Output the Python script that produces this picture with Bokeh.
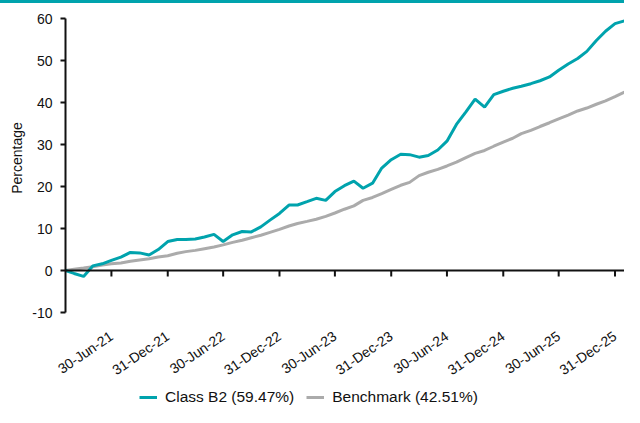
import pandas as pd
from bokeh.plotting import figure
from bokeh.models import (Range1d, FixedTicker, DatetimeTickFormatter, LinearAxis,
                          Legend, LegendItem, Div, ColumnDataSource, Span)
from bokeh.layouts import column
from bokeh.embed import file_html
from bokeh.resources import INLINE

# ---- data (monthly cumulative performance, %) ----
start_month = "2021-01-31"
class_b2 = [0.0, -0.7, -1.4, 1.1, 1.6, 2.4, 3.2, 4.3, 4.2, 3.7, 5.0, 6.9,
            7.4, 7.4, 7.5, 8.0, 8.6, 6.9, 8.5, 9.3, 9.2, 10.4, 12.0, 13.6,
            15.6, 15.6, 16.4, 17.2, 16.7, 18.8, 20.2, 21.3, 19.6, 20.8, 24.4, 26.4,
            27.7, 27.6, 27.0, 27.4, 28.7, 30.8, 34.8, 37.8, 40.8, 38.9, 41.9, 42.7,
            43.4, 43.9, 44.5, 45.2, 46.1, 47.7, 49.2, 50.5, 52.2, 54.8, 57.0, 58.8,
            59.47]
benchmark = [0.0, 0.3, 0.6, 0.9, 1.3, 1.6, 1.8, 2.2, 2.5, 2.8, 3.2, 3.5,
             4.1, 4.5, 4.8, 5.2, 5.6, 6.1, 6.7, 7.2, 7.8, 8.4, 9.1, 9.8,
             10.6, 11.2, 11.7, 12.2, 12.9, 13.7, 14.6, 15.4, 16.7, 17.4, 18.3, 19.3,
             20.3, 21.0, 22.6, 23.4, 24.1, 24.9, 25.8, 26.9, 27.9, 28.6, 29.6, 30.6,
             31.5, 32.6, 33.4, 34.3, 35.2, 36.1, 37.0, 38.0, 38.7, 39.6, 40.4, 41.4,
             42.51]
series_names = ["Class B2 (59.47%)", "Benchmark (42.51%)"]
tick_labels = ["30-Jun-21", "31-Dec-21", "30-Jun-22", "31-Dec-22", "30-Jun-23",
               "31-Dec-23", "30-Jun-24", "31-Dec-24", "30-Jun-25", "31-Dec-25"]
y_ticks = [-10, 0, 10, 20, 30, 40, 50, 60]

TEAL = "#00A3AD"
GREY = "#ABABAB"
INK = "#111111"
FONT = "Liberation Sans"
Y_MIN, Y_MAX = -10, 63.6
TICK_LEN = 1.42  # length of the date tick marks below the zero line (y units)

dates = [pd.Timestamp(start_month) + pd.offsets.MonthEnd(i) for i in range(len(class_b2))]
epoch = pd.Timestamp("1970-01-01")
tick_dates = [pd.to_datetime(t, format="%d-%b-%y") for t in tick_labels]
tick_ms = [(d - epoch) / pd.Timedelta(milliseconds=1) for d in tick_dates]

src = ColumnDataSource(dict(date=dates, b2=class_b2, bm=benchmark))
tick_src = ColumnDataSource(dict(x=tick_dates, y0=[0] * len(tick_dates),
                                 y1=[-TICK_LEN] * len(tick_dates)))

# ---------------- main chart ----------------
p = figure(width=624, height=384, x_axis_type="datetime",
           x_axis_location=None, y_axis_location=None,
           x_range=Range1d(dates[0], dates[-1]), y_range=Range1d(Y_MIN, Y_MAX),
           output_backend="svg", toolbar_location=None,
           min_border_left=65, min_border_right=0, min_border_top=0, min_border_bottom=72)
p.outline_line_color = None
p.xgrid.visible = False
p.ygrid.visible = False
p.background_fill_color = "white"
p.border_fill_color = "white"

# zero line and its date tick marks
p.add_layout(Span(location=0, dimension="width", line_color=INK, line_width=2))
p.segment(x0="x", y0="y0", x1="x", y1="y1", source=tick_src, line_color=INK, line_width=2)

r_bm = p.line("date", "bm", source=src, line_color=GREY, line_width=3)
r_b2 = p.line("date", "b2", source=src, line_color=TEAL, line_width=3)

# y axis
yax = LinearAxis(ticker=FixedTicker(ticks=y_ticks), bounds=(-10, 60),
                 axis_label="Percentage", axis_label_text_font=FONT,
                 axis_label_text_font_size="14px", axis_label_text_font_style="normal",
                 axis_label_text_color=INK, axis_label_standoff=4,
                 major_label_text_font=FONT, major_label_text_font_size="14px",
                 major_label_text_color=INK, major_label_standoff=8,
                 major_label_overrides={-10: "-10"},
                 axis_line_width=2, axis_line_color=INK,
                 major_tick_line_width=2, major_tick_line_color=INK,
                 major_tick_in=0, major_tick_out=5, minor_tick_line_color=None)
p.add_layout(yax, "left")

# rotated date labels
fmt = "%d-%b-%y"
lax = LinearAxis(ticker=FixedTicker(ticks=tick_ms),
                 formatter=DatetimeTickFormatter(days=fmt, months=fmt, years=fmt, hours=fmt,
                                                 hourmin=fmt, minutes=fmt, minsec=fmt,
                                                 seconds=fmt, milliseconds=fmt,
                                                 microseconds=fmt),
                 axis_line_color=None, major_tick_line_color=None, minor_tick_line_color=None,
                 major_tick_in=0, major_tick_out=0,
                 major_label_orientation=0.6, major_label_standoff=22,
                 major_label_text_font=FONT, major_label_text_font_size="14px",
                 major_label_text_color=INK)
p.add_layout(lax, "below")

# ---------------- legend strip ----------------
# the key lines reuse the real series; the strip's ranges keep them out of view
lg = figure(width=624, height=20, x_range=Range1d(0, 1), y_range=Range1d(0, 1),
            x_axis_location=None, y_axis_location=None,
            output_backend="svg", toolbar_location=None,
            min_border_left=0, min_border_right=0, min_border_top=0, min_border_bottom=0)
lg.outline_line_color = None
lg.xgrid.visible = False
lg.ygrid.visible = False
k_b2 = lg.line("date", "b2", source=src, line_color=TEAL, line_width=3)
k_bm = lg.line("date", "bm", source=src, line_color=GREY, line_width=3)
legend = Legend(items=[LegendItem(label=series_names[0], renderers=[k_b2]),
                       LegendItem(label=series_names[1], renderers=[k_bm])],
                orientation="horizontal", location=(74, 1),
                label_text_font=FONT, label_text_font_size="15.5px", label_text_color=INK,
                glyph_width=18, glyph_height=16, label_standoff=8, spacing=12,
                padding=0, margin=0, border_line_color=None, background_fill_alpha=0)
lg.add_layout(legend, "center")

top_bar = Div(width=624, height=3, margin=0, styles={"background-color": TEAL})

layout = column(top_bar, p, lg, spacing=0)
open("out.html", "w").write(file_html(layout, INLINE))
